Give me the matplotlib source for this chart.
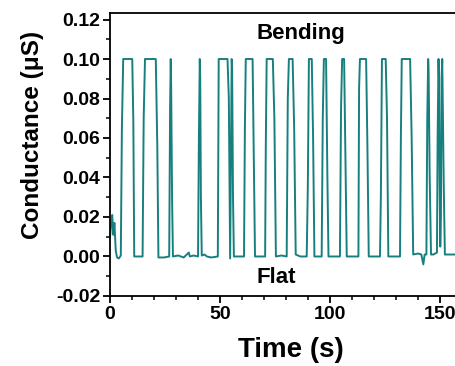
import matplotlib
matplotlib.use('Agg')
import matplotlib.pyplot as plt
from matplotlib.ticker import MultipleLocator

# Conductance trace, bending / flat cycles
time = [0, 0.5, 1.0, 1.5, 2.0, 2.6, 3.2, 4.0, 4.9,
        5.4, 6.0, 10.1, 10.6, 11.0, 13.0, 14.8,
        15.3, 15.9, 20.8, 21.5, 22.0, 24.5, 26.9,
        27.3, 27.6, 27.8, 28.2, 28.6, 31.0, 33.5, 35.8, 36.3, 38.0, 40.0,
        40.4, 40.8, 41.0, 41.3, 41.7, 43.0, 44.0, 46.0, 49.0,
        49.4, 53.4, 54.0, 54.6, 54.9, 55.3, 55.5, 55.9, 56.3, 58.0, 60.9,
        61.3, 61.7, 64.8, 65.4, 65.9, 68.0, 70.5,
        70.8, 71.2, 74.0, 74.7, 75.4, 78.0, 80.3,
        80.8, 81.3, 83.0, 83.7, 84.4, 86.5, 89.4,
        89.9, 90.4, 91.7, 92.3, 92.9, 95.0, 96.2,
        96.7, 97.2, 98.2, 98.8, 99.3, 102.0, 104.5,
        105.0, 105.5, 106.4, 107.0, 107.6, 110.0, 112.9,
        113.2, 113.6, 116.4, 117.0, 117.6, 120.0, 122.7,
        123.1, 123.6, 125.3, 125.9, 126.5, 129.0, 131.8,
        132.2, 132.6, 136.4, 137.1, 137.8, 140.0, 141.5, 142.4, 143.0, 143.8,
        144.2, 144.6, 144.8, 145.3, 145.9, 147.0, 148.6,
        148.9, 149.3, 149.5, 149.8, 150.1, 150.4, 150.7, 151.0, 151.2, 151.7, 152.2, 154.0, 157.0]

conductance = [0.010, 0.016, 0.021, 0.011, 0.017, 0.003, -0.0005, -0.001, 0.0005,
               0.065, 0.100, 0.100, 0.068, 0.000, 0.000, 0.000,
               0.070, 0.100, 0.100, 0.055, -0.0005, -0.0005, 0.000,
               0.075, 0.100, 0.085, 0.030, 0.000, 0.0005, -0.0005, 0.002, 0.000, 0.0005, 0.000,
               0.060, 0.100, 0.090, 0.030, 0.0005, 0.001, 0.000, -0.0005, 0.000,
               0.100, 0.100, 0.080, -0.001, 0.040, 0.100, 0.095, 0.030, 0.000, 0.000, 0.000,
               0.065, 0.100, 0.100, 0.045, 0.000, 0.000, 0.000,
               0.055, 0.100, 0.100, 0.070, 0.000, 0.0005, 0.000,
               0.080, 0.100, 0.100, 0.065, 0.001, 0.000, 0.000,
               0.035, 0.100, 0.100, 0.060, 0.000, 0.000, 0.000,
               0.070, 0.100, 0.100, 0.040, 0.000, 0.000, 0.000,
               0.075, 0.100, 0.100, 0.050, 0.000, 0.000, 0.000,
               0.085, 0.100, 0.100, 0.055, 0.000, 0.000, 0.000,
               0.030, 0.100, 0.100, 0.070, 0.000, 0.000, 0.000,
               0.060, 0.100, 0.100, 0.060, 0.001, 0.0015, 0.001, -0.004, 0.001, 0.001,
               0.070, 0.100, 0.095, 0.040, 0.001, 0.001, 0.002,
               0.060, 0.100, 0.090, 0.040, 0.005, 0.020, 0.090, 0.100, 0.080, 0.035, 0.001, 0.001, 0.001]

plt.rcParams['font.family'] = ['Liberation Sans', 'DejaVu Sans']
plt.rcParams['font.weight'] = 'bold'

fig = plt.figure(figsize=(4.55, 3.66), dpi=100)
ax = fig.add_axes([0.2418, 0.1913, 0.7582, 0.7732])

ax.plot(time, conductance, color='#17807f', linewidth=1.4)

ax.set_xlim(0, 156.8)
ax.set_ylim(-0.02, 0.1233)
ax.xaxis.set_major_locator(MultipleLocator(50))
ax.xaxis.set_minor_locator(MultipleLocator(10))
ax.yaxis.set_major_locator(MultipleLocator(0.02))
ax.yaxis.set_minor_locator(MultipleLocator(0.01))
ax.yaxis.set_major_formatter(plt.FormatStrFormatter('%.2f'))

ax.tick_params(which='major', direction='out', length=5, width=1.3, labelsize=14, pad=2)
ax.tick_params(which='minor', direction='out', length=3, width=1.1)
ax.tick_params(top=False, right=False, which='both')
for lab in ax.get_xticklabels() + ax.get_yticklabels():
    lab.set_fontweight('bold')

ax.spines['right'].set_visible(False)
for s in ['left', 'bottom', 'top']:
    ax.spines[s].set_linewidth(1.3)

ax.set_xlabel('Time (s)', fontsize=20, fontweight='bold')
ax.set_ylabel('Conductance (μS)', fontsize=17.5, fontweight='bold')
ax.xaxis.set_label_coords(0.523, -0.145)
ax.yaxis.set_label_coords(-0.19, 0.57)

ax.text(66.7, 0.113, 'Bending', fontsize=16, fontweight='bold', va='center', ha='left')
ax.text(66.7, -0.0106, 'Flat', fontsize=16, fontweight='bold', va='center', ha='left')

fig.savefig('out.png', dpi=100)
